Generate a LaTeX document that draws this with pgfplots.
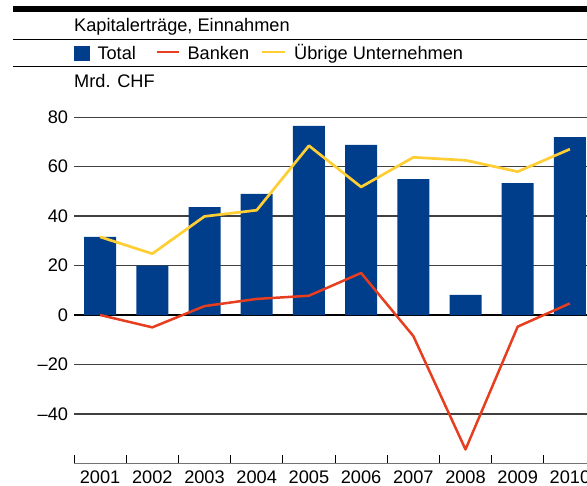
\documentclass[border=0pt]{standalone}
\usepackage{pgfplots}
\pgfplotsset{compat=1.18}
\usepackage{fontspec}
\setmainfont{Liberation Sans}

\definecolor{snbblue}{RGB}{0,61,138}
\definecolor{snbred}{RGB}{230,62,30}
\definecolor{snbyellow}{RGB}{255,206,52}

\begin{document}
\begin{tikzpicture}[font=\fontsize{18.2}{22}\selectfont]
\path[use as bounding box] (0pt,0pt) rectangle (587pt,486pt);
\clip (0pt,0pt) rectangle (587pt,486pt);

% header block
\fill[black] (13pt,474pt) rectangle (587pt,480pt);
\draw[black, line width=1.3pt] (13pt,446.5pt) -- (587pt,446.5pt);
\draw[black, line width=1.3pt] (13pt,419.3pt) -- (587pt,419.3pt);
\node[anchor=base west, inner sep=0pt] at (74pt,454.3pt) {Kapitalerträge, Einnahmen};
\fill[snbblue] (74pt,425pt) rectangle (90pt,440.3pt);
\node[anchor=base west, inner sep=0pt] at (97.3pt,426pt) {Total};
\draw[snbred, line width=2.4pt] (156.7pt,433.7pt) -- (178.7pt,433.7pt);
\node[anchor=base west, inner sep=0pt] at (187.3pt,426pt) {Banken};
\draw[snbyellow, line width=2.4pt] (262pt,433.7pt) -- (284.6pt,433.7pt);
\node[anchor=base west, inner sep=0pt] at (294pt,426pt) {Übrige Unternehmen};
\node[anchor=base west, inner sep=0pt] at (74pt,398.7pt) {Mrd. CHF};

\begin{axis}[
    at={(74pt,22.7pt)}, anchor=south west,
    scale only axis, width=522pt, height=346pt,
    xmin=-0.5, xmax=9.5, ymin=-60, ymax=80,
    axis x line*=bottom, axis y line*=left,
    x axis line style={black!55, line width=1.5pt},
    y axis line style={draw=none},
    xtick={0,...,9},
    xticklabels={2001,2002,2003,2004,2005,2006,2007,2008,2009,2010},
    minor xtick={-0.5,0.5,...,9.5},
    major tick length=0pt, minor tick length=8pt,
    tick align=inside,
    minor tick style={black, line width=1pt},
    xticklabel style={inner sep=0pt, anchor=north, yshift=-7.4pt},
    ytick={-40,-20,0,20,40,60,80},
    yticklabels={–40,–20,0,20,40,60,80},
    yticklabel style={inner sep=0pt, anchor=east, xshift=-5.7pt},
    ymajorgrids, grid style={black!75, line width=1.3pt},
    extra y ticks={0}, extra y tick labels={},
    extra y tick style={grid style={black, line width=2.2pt}},
]
\addplot[ybar, bar width=0.613, bar shift=0pt, fill=snbblue, draw=none] coordinates {
  (0,31.6) (1,20.0) (2,43.7) (3,49.0) (4,76.5)
  (5,68.8) (6,55.0) (7,8.1) (8,53.4) (9,72.0)
};
\addplot[sharp plot, snbred, line width=2.5pt, line join=round, mark=none] coordinates {
  (0,0) (1,-5.0) (2,3.6) (3,6.5) (4,7.8)
  (5,17.0) (6,-8.5) (7,-54.4) (8,-4.7) (9,4.7)
};
\addplot[sharp plot, snbyellow, line width=2.7pt, line join=round, mark=none] coordinates {
  (0,31.6) (1,24.8) (2,39.9) (3,42.4) (4,68.5)
  (5,51.8) (6,63.8) (7,62.6) (8,58.0) (9,67.1)
};
\end{axis}
\end{tikzpicture}
\end{document}
